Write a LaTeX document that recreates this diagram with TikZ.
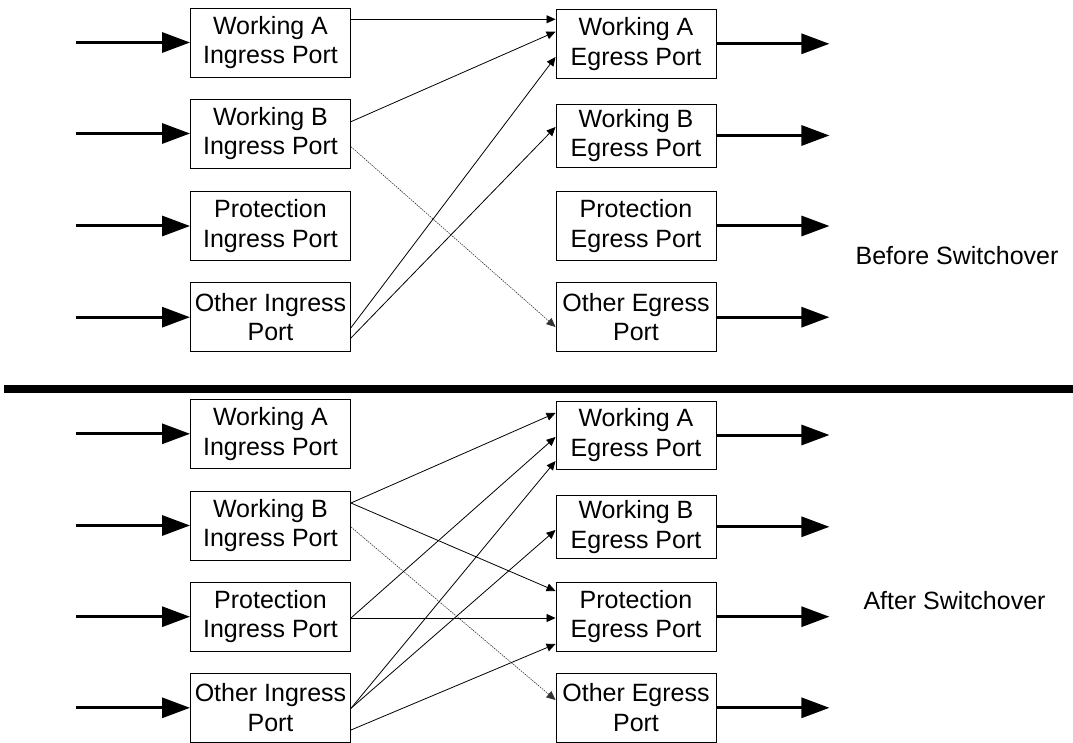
\documentclass[tikz,border=0pt]{standalone}
\usepackage{fontspec}
\setmainfont{Liberation Sans}
\usetikzlibrary{arrows.meta}
\begin{document}
\begin{tikzpicture}[x=1pt,y=-1pt,
  port/.style={draw=black, line width=0.9pt, minimum width=160pt, minimum height=69pt,
    inner sep=0pt, align=center, font=\fontsize{25}{29.5}\selectfont},
  shortport/.style={port, minimum height=63pt},
  feed/.style={line width=3pt, -{Triangle[length=28pt,width=20pt]}},
  link/.style={line width=0.8pt, -{Triangle[length=9pt,width=8pt]}},
  spare/.style={line width=0.6pt, black!80, dash pattern=on 1.5pt off 1pt,
    -{Triangle[length=9pt,width=8pt]}},
  caption/.style={font=\fontsize{25}{30}\selectfont, inner sep=0pt}]
\useasboundingbox (0,0) rectangle (1073,743);

% ---------- before switchover ----------
\node[port] (wai) at (270.5,42.5)  {Working A\\Ingress Port};
\node[port] (wbi) at (270.5,133.5) {Working B\\Ingress Port};
\node[port] (pi)  at (270.5,226)   {Protection\\Ingress Port};
\node[port] (oi)  at (270.5,317.2) {Other Ingress\\Port};

\node[port]      (wae) at (636,43.8)  {Working A\\Egress Port};
\node[shortport] (wbe) at (636,135.5) {Working B\\Egress Port};
\node[port]      (pe)  at (636,226)   {Protection\\Egress Port};
\node[port]      (oe)  at (636,317.2) {Other Egress\\Port};

\foreach \n in {wai,wbi,pi,oi}
  \draw[feed] ([xshift=-114pt]\n.west) -- (\n.west);
\foreach \n in {wae,wbe,pe,oe}
  \draw[feed] (\n.east) -- ([xshift=113pt]\n.east);

\draw[link]  ([yshift=23.2pt]wai.east) -- ([yshift=24.5pt]wae.west);
\draw[link]  ([yshift=11.8pt]wbi.east) -- ([yshift=12.1pt]wae.west);
\draw[spare] ([yshift=-13.2pt]wbi.east) -- ([yshift=-9.8pt]oe.west);
\draw[link]  ([yshift=-10.5pt]oi.east) -- ([yshift=-13.2pt]wae.west);
\draw[link]  ([yshift=-20.8pt]oi.east) -- ([yshift=8.5pt]wbe.west);

\node[caption] (before) at (957,256) {Before Switchover};

% ---------- separator ----------
\draw[line width=8pt] (4,389) -- (1073,389);

% ---------- after switchover ----------
\node[port] (wai2) at (270.5,433.8) {Working A\\Ingress Port};
\node[port] (wbi2) at (270.5,525.5) {Working B\\Ingress Port};
\node[port] (pi2)  at (270.5,616.7) {Protection\\Ingress Port};
\node[port] (oi2)  at (270.5,707.8) {Other Ingress\\Port};

\node[port, minimum height=68pt] (wae2) at (636,435)   {Working A\\Egress Port};
\node[shortport]                 (wbe2) at (636,526.8) {Working B\\Egress Port};
\node[port]                      (pe2)  at (636,616.7) {Protection\\Egress Port};
\node[port]                      (oe2)  at (636,707.8) {Other Egress\\Port};

\foreach \n in {wai2,wbi2,pi2,oi2}
  \draw[feed] ([xshift=-114pt]\n.west) -- (\n.west);
\foreach \n in {wae2,wbe2,pe2,oe2}
  \draw[feed] (\n.east) -- ([xshift=113pt]\n.east);

\draw[link]  ([yshift=22.5pt]wbi2.east) -- ([yshift=22pt]wae2.west);
\draw[link]  ([yshift=22.5pt]wbi2.east) -- ([yshift=25.7pt]pe2.west);
\draw[spare] ([yshift=-1.5pt]wbi2.east) -- ([yshift=7.8pt]oe2.west);
\draw[link]  ([yshift=-1.3pt]pi2.east) -- ([yshift=-2pt]wae2.west);
\draw[link]  ([yshift=-1.3pt]pi2.east) -- ([yshift=-1.3pt]pe2.west);
\draw[link]  ([yshift=-0.5pt]oi2.east) -- ([yshift=-26pt]wae2.west);
\draw[link]  ([yshift=-0.5pt]oi2.east) -- ([yshift=-3.2pt]wbe2.west);
\draw[link]  ([yshift=-22.2pt]oi2.east) -- ([yshift=-27.3pt]pe2.west);

\node[caption] (after) at (954.5,601) {After Switchover};
\end{tikzpicture}
\end{document}
